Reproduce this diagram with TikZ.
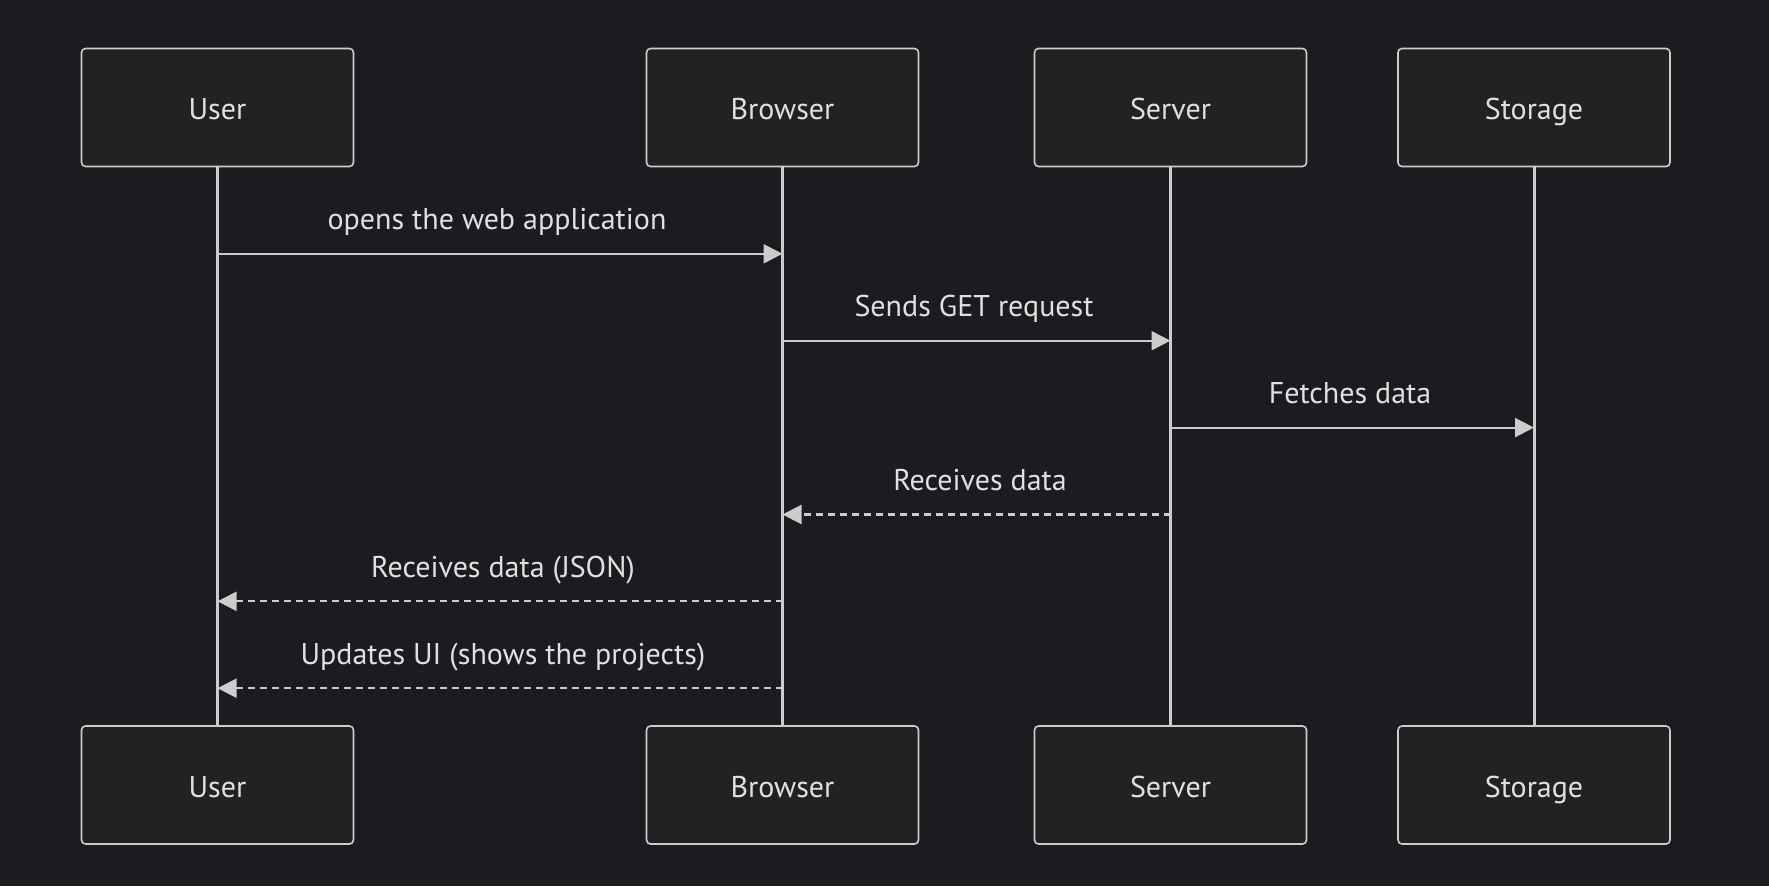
\documentclass[tikz,border=0pt]{standalone}
\usepackage{fontspec}
\setmainfont{PT Sans}
\usetikzlibrary{arrows.meta}
\definecolor{bg}{HTML}{1C1C20}
\definecolor{boxfill}{HTML}{212322}
\definecolor{ln}{HTML}{CCCCCC}
\definecolor{txt}{HTML}{E0E0E0}
\begin{document}
\begin{tikzpicture}[x=1pt,y=-1pt,
  actor/.style={draw=ln,line width=1.6pt,fill=boxfill,rounded corners=4pt,minimum width=272pt,minimum height=118pt,inner sep=0pt,text=txt,font=\fontsize{30}{34}\selectfont,text height=24pt,text depth=0pt},
  life/.style={draw=ln,line width=3pt},
  msg/.style={draw=ln,line width=2.2pt,-{Triangle[length=19pt,width=19pt]}},
  reply/.style={msg,dash pattern=on 7pt off 5pt},
  lbl/.style={text=txt,font=\fontsize{30}{34}\selectfont,inner sep=0pt,anchor=base}]
\fill[bg] (0,0) rectangle (1769,886);
\useasboundingbox (0,0) rectangle (1769,886);
% actor positions
\coordinate (uTc) at (217.5,107.5);
\coordinate (bTc) at (782.5,107.5);
\coordinate (sTc) at (1170.5,107.5);
\coordinate (dTc) at (1534,107.5);
\coordinate (uBc) at (217.5,785);
\coordinate (bBc) at (782.5,785);
\coordinate (sBc) at (1170.5,785);
\coordinate (dBc) at (1534,785);
% lifelines
\draw[life] (uTc) -- (uBc);
\draw[life] (bTc) -- (bBc);
\draw[life] (sTc) -- (sBc);
\draw[life] (dTc) -- (dBc);
% actors
\node[actor] (uT) at (uTc) {User};
\node[actor] (bT) at (bTc) {Browser};
\node[actor] (sT) at (sTc) {Server};
\node[actor] (dT) at (dTc) {Storage};
\node[actor] (uB) at (uBc) {User};
\node[actor] (bB) at (bBc) {Browser};
\node[actor] (sB) at (sBc) {Server};
\node[actor] (dB) at (dBc) {Storage};
% message points
\coordinate (u1) at (uT.center |- 0,253.8);
\coordinate (b1) at (bT.center |- 0,253.8);
\coordinate (b2) at (bT.center |- 0,340.7);
\coordinate (s2) at (sT.center |- 0,340.7);
\coordinate (s3) at (sT.center |- 0,427.6);
\coordinate (d3) at (dT.center |- 0,427.6);
\coordinate (s4) at (sT.center |- 0,514.5);
\coordinate (b4) at (bT.center |- 0,514.5);
\coordinate (b5) at (bT.center |- 0,601.3);
\coordinate (u5) at (uT.center |- 0,601.3);
\coordinate (b6) at (bT.center |- 0,688.2);
\coordinate (u6) at (uT.center |- 0,688.2);
\draw[msg] (u1) -- (b1);
\draw[msg] (b2) -- (s2);
\draw[msg] (s3) -- (d3);
\draw[reply] (s4) -- (b4);
\draw[reply] (b5) -- (u5);
\draw[reply] (b6) -- (u6);
\node[lbl] (l1) at (497,229.8) {opens the web application};
\node[lbl] (l2) at (974,316.7) {Sends GET request};
\node[lbl] (l3) at (1350,403.6) {Fetches data};
\node[lbl] (l4) at (980,490.5) {Receives data};
\node[lbl] (l5) at (503,577.3) {Receives data (JSON)};
\node[lbl] (l6) at (503,664.2) {Updates UI (shows the projects)};
\end{tikzpicture}
\end{document}
